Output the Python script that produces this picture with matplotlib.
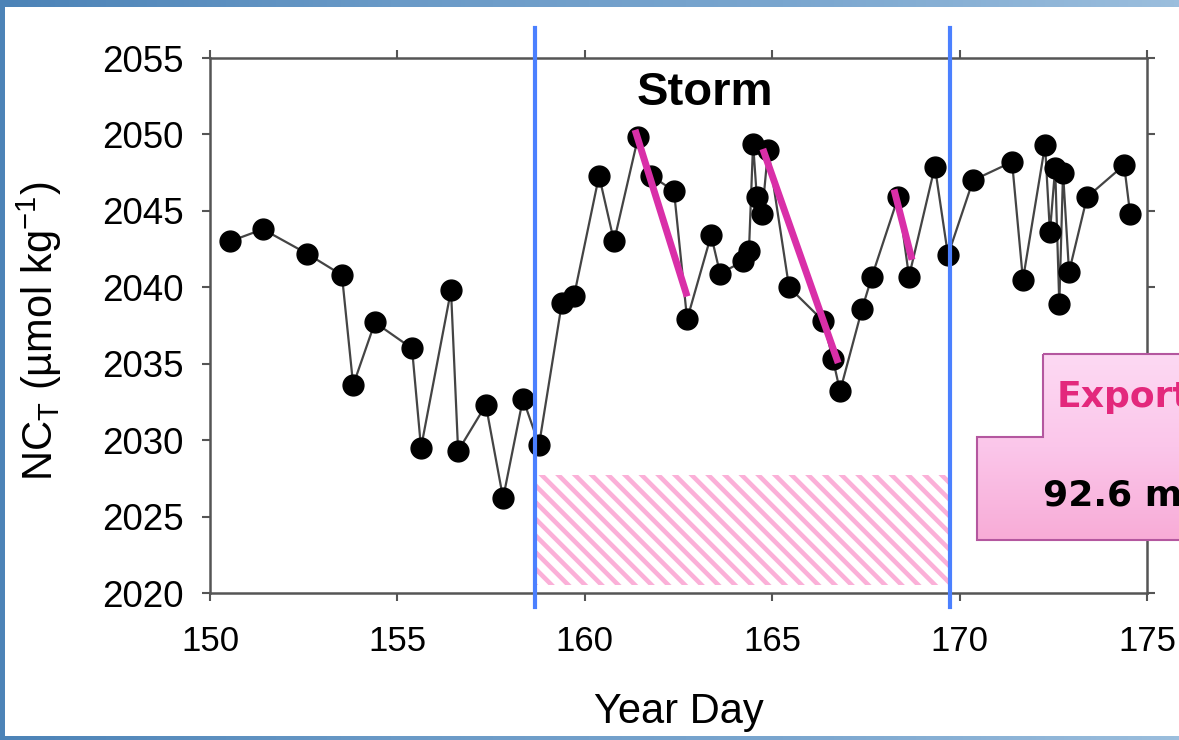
import matplotlib
matplotlib.use("Agg")
import matplotlib.pyplot as plt
import numpy as np
from matplotlib.patches import Rectangle, Polygon
from matplotlib.colors import LinearSegmentedColormap

plt.rcParams["font.family"] = ["Liberation Sans", "DejaVu Sans"]
plt.rcParams["mathtext.fontset"] = "custom"
plt.rcParams["mathtext.rm"] = "Liberation Sans"
plt.rcParams["mathtext.it"] = "Liberation Sans:italic"
plt.rcParams["mathtext.bf"] = "Liberation Sans:bold"
plt.rcParams["hatch.linewidth"] = 3.3

# ---- data -------------------------------------------------------------
year_day = [150.53, 151.41, 152.59, 153.52, 153.82, 154.40, 155.39, 155.63,
            156.43, 156.62, 157.36, 157.82, 158.35, 158.78, 159.39, 159.71,
            160.38, 160.78, 161.42, 161.77, 162.38, 162.73, 163.37, 163.61,
            164.22, 164.38, 164.49, 164.59, 164.73, 164.89, 165.45, 166.36,
            166.62, 166.81, 167.40, 167.66, 168.36, 168.65, 169.34, 169.69,
            170.36, 171.40, 171.69, 172.28, 172.41, 172.55, 172.66, 172.76,
            172.92, 173.40, 174.39, 174.55]
nct = [2043.0, 2043.8, 2042.2, 2040.8, 2033.6, 2037.7, 2036.0, 2029.5,
       2039.8, 2029.3, 2032.3, 2026.2, 2032.7, 2029.7, 2039.0, 2039.4,
       2047.3, 2043.0, 2049.8, 2047.3, 2046.3, 2037.9, 2043.4, 2040.9,
       2041.7, 2042.4, 2049.4, 2045.9, 2044.8, 2049.0, 2040.0, 2037.8,
       2035.3, 2033.2, 2038.6, 2040.7, 2045.9, 2040.7, 2047.9, 2042.1,
       2047.0, 2048.2, 2040.5, 2049.3, 2043.6, 2047.8, 2038.9, 2047.5,
       2041.0, 2045.9, 2048.0, 2044.8]

# drawdown segments after the storm: start/end day and start/end NC_T
drawdown_day_start = [161.34, 164.75, 168.25]
drawdown_day_end = [162.73, 166.76, 168.73]
drawdown_val_start = [2050.3, 2049.05, 2046.4]
drawdown_val_end = [2039.4, 2035.05, 2041.8]

# export period bounds (year day) and shaded band (NC_T)
period_bounds = [158.67, 169.74]
band_range = [2020.5, 2027.7]

x_ticks = [150, 155, 160, 165, 170, 175]
y_ticks = [2020, 2025, 2030, 2035, 2040, 2045, 2050, 2055]

W, H = 1179, 740
fig = plt.figure(figsize=(W / 100, H / 100), dpi=100)

# ---- slide backdrop ---------------------------------------------------
bg = fig.add_axes([0, 0, 1, 1], zorder=-10)
bg.axis("off")
slide_cmap = LinearSegmentedColormap.from_list(
    "slide", ["#4c83b7", "#6a9ac7", "#7aa6cf", "#9bbedd"])
bg.imshow(np.linspace(0, 1, 256).reshape(1, -1), extent=[0, W, H, 0],
          aspect="auto", cmap=slide_cmap)
bg.add_patch(Rectangle((5, 7), W - 5, 729, facecolor="white",
                       edgecolor="none"))
bg.set_xlim(0, W)
bg.set_ylim(H, 0)

# ---- main chart -------------------------------------------------------
ax = fig.add_axes([210 / W, 1 - 593 / H, 937 / W, 535 / H])
ax.set_facecolor("white")

ax.plot(year_day, nct, "-", color="#444444", lw=1.6, marker="o", ms=15,
        mfc="black", mec="black", zorder=3)

for d0, d1, v0, v1 in zip(drawdown_day_start, drawdown_day_end,
                          drawdown_val_start, drawdown_val_end):
    ax.plot([d0, d1], [v0, v1], color="#d92fa8", lw=5,
            solid_capstyle="butt", zorder=4)

ax.add_patch(Rectangle((period_bounds[0], band_range[0]),
                       period_bounds[1] - period_bounds[0],
                       band_range[1] - band_range[0],
                       facecolor="none", edgecolor="#fbb0d8", lw=0,
                       hatch="\\\\", zorder=1))

for xb in period_bounds:
    ax.axvline(xb, ymin=-0.026, ymax=1.056, color="#4b80ff", lw=3,
               clip_on=False, zorder=5)

ax.set_xlim(150, 175)
ax.set_ylim(2020, 2055)
ax.set_xticks(x_ticks)
ax.set_yticks(y_ticks)

for sp in ax.spines.values():
    sp.set_color("#555555")
    sp.set_linewidth(1.8)
ax.tick_params(which="both", direction="out", length=6, width=1.5,
               color="#555555", top=True, right=True)
ax.tick_params(axis="x", pad=17, labelsize=25)
ax.tick_params(axis="y", pad=13, labelsize=26.5)

ax.text(0.528, 0.9346, "Storm", transform=ax.transAxes, ha="center",
        va="center", fontsize=34, fontweight="bold")

fig.text(39 / W, 1 - 331 / H, r"NC$_\mathrm{T}$ (µmol kg$^{-1}$)",
         rotation=90, ha="center", va="center", fontsize=30)
fig.text(679 / W, 1 - 712 / H, "Year Day", ha="center", va="center",
         fontsize=30)

# ---- export callout box ----------------------------------------------
ov = fig.add_axes([0, 0, 1, 1], zorder=20)
ov.axis("off")
ov.patch.set_alpha(0)
box = Polygon([(1043, 354), (W + 5, 354), (W + 5, 540), (977, 540),
               (977, 437), (1043, 437)], closed=True, facecolor="none",
              edgecolor="#b4579f", lw=1.5, zorder=3)
ov.add_patch(box)
pink_cmap = LinearSegmentedColormap.from_list(
    "callout", ["#fdd9f3", "#fbc6ea", "#f8acd7"])
grad = ov.imshow(np.linspace(0, 1, 100).reshape(-1, 1),
                 extent=[977, W + 5, 540, 354], aspect="auto",
                 cmap=pink_cmap, zorder=2)
grad.set_clip_path(box)
ov.text(1057, 397, "Export", color="#e3287c", fontsize=26,
        fontweight="bold", family="DejaVu Sans", ha="left", va="center",
        zorder=4)
ov.text(1043, 495, "92.6 m", color="black", fontsize=26,
        fontweight="bold", family="DejaVu Sans", ha="left", va="center",
        zorder=4)
ov.set_xlim(0, W)
ov.set_ylim(H, 0)

fig.savefig("out.png", dpi=100)
